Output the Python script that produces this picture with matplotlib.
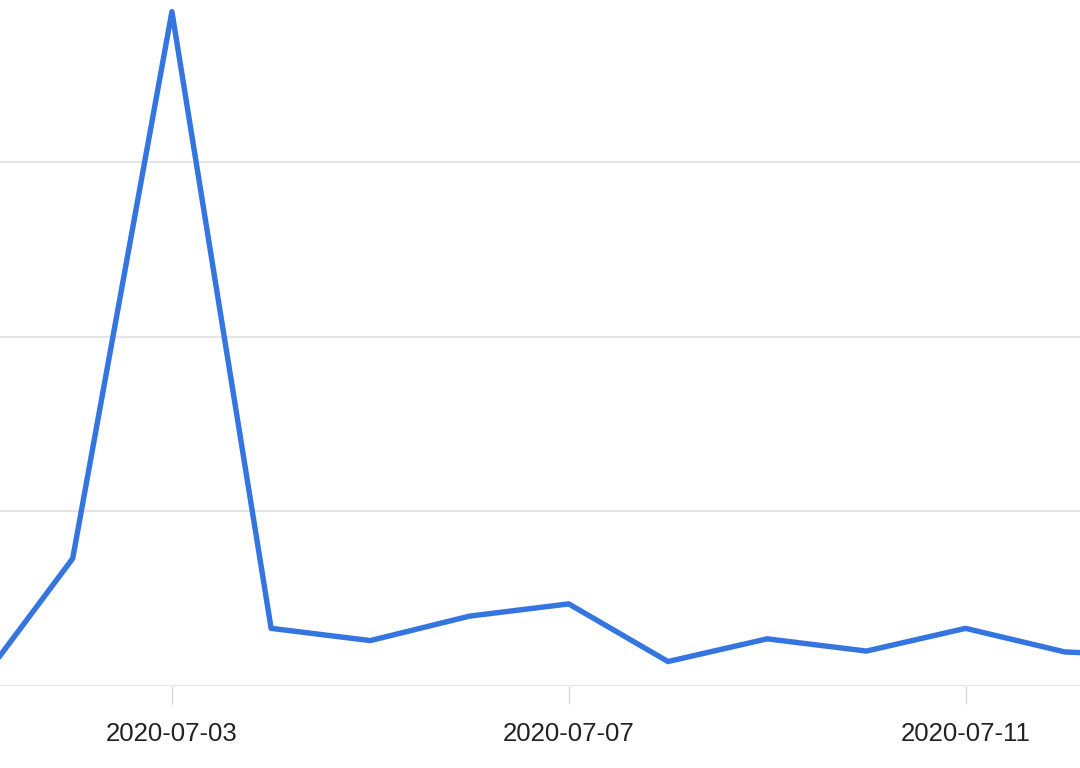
import matplotlib
matplotlib.use("Agg")
import matplotlib.pyplot as plt
import matplotlib.dates as mdates
import pandas as pd

dates = ["2020-07-01", "2020-07-02", "2020-07-03", "2020-07-04", "2020-07-05",
         "2020-07-06", "2020-07-07", "2020-07-08", "2020-07-09", "2020-07-10",
         "2020-07-11", "2020-07-12", "2020-07-13"]
values = [-3, 73, 386, 33, 26, 40, 47, 14, 27, 20, 33, 19.5, 17]
tick_dates = ["2020-07-03", "2020-07-07", "2020-07-11"]
grid_values = [0, 100, 200, 300]

x = pd.to_datetime(dates)

fig = plt.figure(figsize=(10.8, 7.68), dpi=100)
ax = fig.add_axes([0, 82 / 768, 1, 686 / 768])

ax.plot(x, values, color="#3575E0", linewidth=3.9, solid_joinstyle="round",
        solid_capstyle="round")

d0 = mdates.date2num(pd.Timestamp("2020-07-01"))
ax.set_xlim(d0 + 26.5 / 99.2, d0 + 2 + (1080 - 172) / 99.2)
ax.set_ylim(0, 686 / 174.7 * 100)

ax.set_yticks(grid_values)
ax.yaxis.grid(True, color="#dedede", linewidth=1.1)
ax.tick_params(axis="y", left=False, labelleft=False)

ax.set_xticks(pd.to_datetime(tick_dates))
ax.xaxis.set_major_formatter(mdates.DateFormatter("%Y-%m-%d"))
ax.tick_params(axis="x", length=13, width=1, color="#d8d8d8", pad=13,
               labelsize=18.5, labelcolor="#222222")
for lbl in ax.get_xticklabels():
    lbl.set_family(["Liberation Sans", "DejaVu Sans"])

for s in ax.spines.values():
    s.set_visible(False)
ax.set_axisbelow(True)

fig.savefig("out.png", dpi=100)
